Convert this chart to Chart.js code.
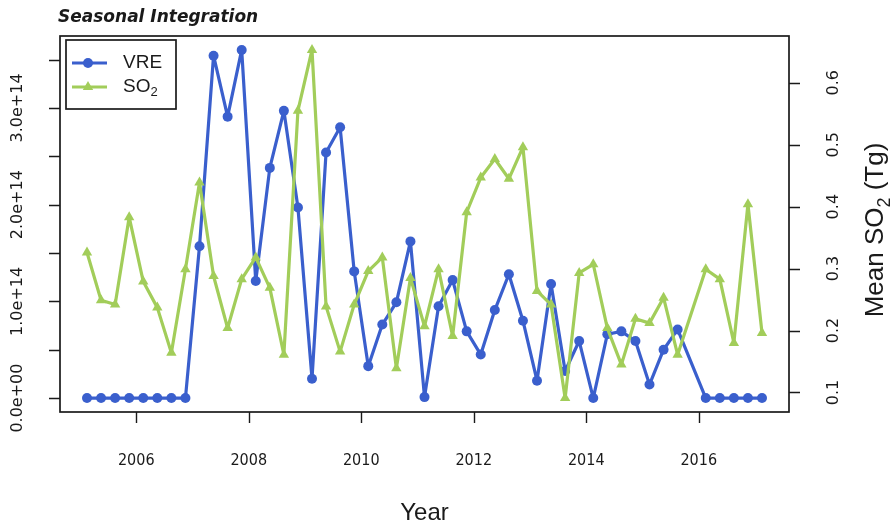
<!DOCTYPE html>
<html>
<head>
<meta charset="utf-8">
<script src="https://cdn.jsdelivr.net/npm/chart.js@4.4.0/dist/chart.umd.min.js"></script>
<style>
  html, body { margin: 0; padding: 0; background: #fff; }
</style>
</head>
<body>
<canvas id="chart" width="893" height="529"></canvas>
<script>
// quarterly time steps (2015.875 has no value in the source series)
var years = [
  2005.125, 2005.375, 2005.625, 2005.875,
  2006.125, 2006.375, 2006.625, 2006.875,
  2007.125, 2007.375, 2007.625, 2007.875,
  2008.125, 2008.375, 2008.625, 2008.875,
  2009.125, 2009.375, 2009.625, 2009.875,
  2010.125, 2010.375, 2010.625, 2010.875,
  2011.125, 2011.375, 2011.625, 2011.875,
  2012.125, 2012.375, 2012.625, 2012.875,
  2013.125, 2013.375, 2013.625, 2013.875,
  2014.125, 2014.375, 2014.625, 2014.875,
  2015.125, 2015.375, 2015.625,
  2016.125, 2016.375, 2016.625, 2016.875,
  2017.125
];

// VRE (left axis)
var vre = [
  0, 0, 0, 0, 0, 0, 0, 0,
  1.57e14, 3.54e14, 2.91e14, 3.60e14,
  1.21e14, 2.38e14, 2.97e14, 1.97e14,
  0.20e14, 2.54e14, 2.80e14, 1.31e14,
  0.33e14, 0.76e14, 0.99e14, 1.62e14,
  0.01e14, 0.95e14, 1.22e14, 0.69e14,
  0.45e14, 0.91e14, 1.28e14, 0.80e14,
  0.18e14, 1.18e14, 0.28e14, 0.59e14,
  0, 0.66e14, 0.69e14, 0.59e14,
  0.14e14, 0.50e14, 0.71e14,
  0, 0, 0, 0, 0
];

// mean SO2 in Tg (right axis)
var so2 = [
  0.326, 0.249, 0.242, 0.383, 0.279, 0.237, 0.164, 0.299,
  0.439, 0.288, 0.204, 0.283, 0.318, 0.269, 0.161, 0.555,
  0.653, 0.239, 0.166, 0.242, 0.296, 0.318, 0.139, 0.285,
  0.207, 0.299, 0.191, 0.391, 0.447, 0.477, 0.445, 0.496,
  0.264, 0.242, 0.091, 0.293, 0.307, 0.204, 0.145, 0.219,
  0.212, 0.253, 0.161,
  0.299, 0.283, 0.180, 0.404, 0.196
];

var xTicks = [2006, 2008, 2010, 2012, 2014, 2016];
var leftTicks = [0, 0.5e14, 1e14, 1.5e14, 2e14, 2.5e14, 3e14, 3.5e14];
var leftLabelVals = [0, 1e14, 2e14, 3e14];
var leftLabels = ["0.0e+00", "1.0e+14", "2.0e+14", "3.0e+14"];
var rightTicks = [0.1, 0.2, 0.3, 0.4, 0.5, 0.6];
var rightLabels = ["0.1", "0.2", "0.3", "0.4", "0.5", "0.6"];

var blue = '#3a5fcd';
var green = '#a2cd5a';
var ink = '#1a1a1a';

function pts(xs, ys) {
  return xs.map(function(x, i) { return { x: x, y: ys[i] }; });
}

// text with a subscript part, e.g. ["Mean SO", "2", " (Tg)"]
function subWidth(ctx, parts, size, fam) {
  ctx.font = size + 'px ' + fam;
  var w = ctx.measureText(parts[0]).width + ctx.measureText(parts[2]).width;
  ctx.font = Math.round(size * 0.7) + 'px ' + fam;
  return w + ctx.measureText(parts[1]).width;
}
function drawSub(ctx, parts, x, y, size, fam) {
  ctx.textAlign = 'left';
  ctx.font = size + 'px ' + fam;
  ctx.fillText(parts[0], x, y);
  x += ctx.measureText(parts[0]).width;
  ctx.font = Math.round(size * 0.7) + 'px ' + fam;
  ctx.fillText(parts[1], x, y + size * 0.28);
  x += ctx.measureText(parts[1]).width;
  ctx.font = size + 'px ' + fam;
  ctx.fillText(parts[2], x, y);
}
function rotText(ctx, txt, x, y) {
  ctx.save();
  ctx.translate(x, y);
  ctx.rotate(-Math.PI / 2);
  ctx.fillText(txt, 0, 0);
  ctx.restore();
}

var rFrame = {
  id: 'rFrame',
  afterDatasetsDraw: function(chart) {
    var ctx = chart.ctx, a = chart.chartArea;
    var sx = chart.scales.x, sy = chart.scales.y, sy2 = chart.scales.y2;
    ctx.save();

    // box + tick marks
    ctx.strokeStyle = ink;
    ctx.lineWidth = 1.7;
    ctx.strokeRect(a.left, a.top, a.right - a.left, a.bottom - a.top);
    ctx.lineWidth = 1.4;
    ctx.beginPath();
    xTicks.forEach(function(v) {
      var x = Math.round(sx.getPixelForValue(v)) + 0.5;
      ctx.moveTo(x, a.bottom); ctx.lineTo(x, a.bottom + 11);
    });
    leftTicks.forEach(function(v) {
      var y = Math.round(sy.getPixelForValue(v)) + 0.5;
      ctx.moveTo(a.left, y); ctx.lineTo(a.left - 11, y);
    });
    rightTicks.forEach(function(v) {
      var y = Math.round(sy2.getPixelForValue(v)) + 0.5;
      ctx.moveTo(a.right, y); ctx.lineTo(a.right + 11, y);
    });
    ctx.stroke();

    // tick labels
    ctx.fillStyle = ink;
    ctx.textAlign = 'center';
    ctx.textBaseline = 'middle';
    ctx.font = '16px "DejaVu Sans Condensed", "DejaVu Sans"';
    xTicks.forEach(function(v) {
      ctx.fillText(String(v), sx.getPixelForValue(v), 461);
    });
    ctx.font = '16px "DejaVu Sans"';
    leftLabelVals.forEach(function(v, i) {
      rotText(ctx, leftLabels[i], 18, sy.getPixelForValue(v));
    });
    rightTicks.forEach(function(v, i) {
      rotText(ctx, rightLabels[i], 834, sy2.getPixelForValue(v));
    });

    // axis titles
    ctx.font = '24px "Liberation Sans", Arial';
    ctx.textBaseline = 'alphabetic';
    ctx.fillText('Year', (a.left + a.right) / 2, 520);

    var fam = '"Liberation Sans", Arial';
    var parts = ['Mean SO', '2', ' (Tg)'];
    var w = subWidth(ctx, parts, 26, fam);
    ctx.save();
    ctx.translate(883, (a.top + a.bottom) / 2 + 6);
    ctx.rotate(-Math.PI / 2);
    drawSub(ctx, parts, -w / 2, 0, 26, fam);
    ctx.restore();

    // title
    ctx.font = 'italic bold 17px "DejaVu Sans"';
    ctx.textAlign = 'left';
    ctx.fillText('Seasonal Integration', 58, 22);

    // legend box
    var lx = 66, ly = 40, lw = 110, lh = 69;
    ctx.fillStyle = '#fff';
    ctx.fillRect(lx, ly, lw, lh);
    ctx.strokeStyle = ink;
    ctx.lineWidth = 1.7;
    ctx.strokeRect(lx, ly, lw, lh);

    var rows = [
      { y: 63, color: blue, style: 'circle', r: 5, text: ['VRE', '', ''] },
      { y: 87, color: green, style: 'triangle', r: 6, text: ['SO', '2', ''] }
    ];
    rows.forEach(function(row) {
      ctx.strokeStyle = row.color;
      ctx.lineWidth = 3;
      ctx.beginPath();
      ctx.moveTo(72, row.y); ctx.lineTo(107, row.y);
      ctx.stroke();
      ctx.fillStyle = row.color;
      Chart.helpers.drawPoint(ctx, { pointStyle: row.style, radius: row.r, borderWidth: 0 }, 88, row.y);
      ctx.fillStyle = ink;
      ctx.textBaseline = 'middle';
      drawSub(ctx, row.text, 123, row.y, 19, fam);
    });

    ctx.restore();
  }
};

var ctx = document.getElementById('chart').getContext('2d');
var chart = new Chart(ctx, {
  type: 'line',
  data: {
    datasets: [{
      label: 'SO2',
      data: pts(years, so2),
      yAxisID: 'y2',
      borderColor: green,
      backgroundColor: green,
      borderWidth: 3.2,
      borderJoinStyle: 'round',
      borderCapStyle: 'round',
      pointStyle: 'triangle',
      pointRadius: 6,
      pointBorderWidth: 0,
      tension: 0,
      order: 0
    }, {
      label: 'VRE',
      data: pts(years, vre),
      yAxisID: 'y',
      borderColor: blue,
      backgroundColor: blue,
      borderWidth: 3.2,
      borderJoinStyle: 'round',
      borderCapStyle: 'round',
      pointStyle: 'circle',
      pointRadius: 5,
      pointBorderWidth: 0,
      tension: 0,
      order: 1
    }]
  },
  options: {
    responsive: false,
    animation: false,
    layout: { padding: { left: 60, top: 36, right: 104, bottom: 117 } },
    plugins: { legend: { display: false }, tooltip: { enabled: false } },
    scales: {
      x: { type: 'linear', display: false, min: 2004.645, max: 2017.605 },
      y: { type: 'linear', display: false, position: 'left', min: -0.144e14, max: 3.744e14 },
      y2: { type: 'linear', display: false, position: 'right', min: 0.0685, max: 0.6755 }
    }
  },
  plugins: [rFrame]
});
</script>
</body>
</html>
